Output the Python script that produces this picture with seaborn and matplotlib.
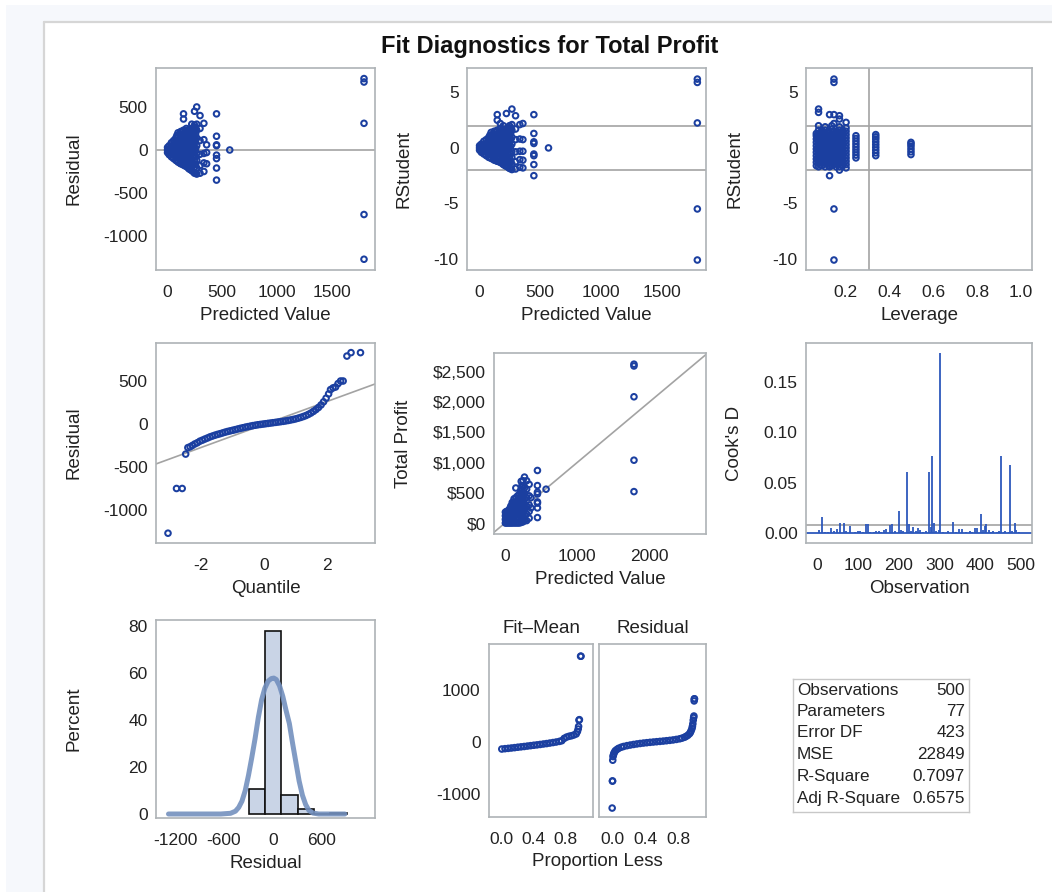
import matplotlib
matplotlib.use("Agg")
import matplotlib.pyplot as plt
import seaborn as sns
from matplotlib.patches import Rectangle
from matplotlib.lines import Line2D
from matplotlib.ticker import FuncFormatter

# ---------------- data ----------------
# Panel 1: Residual vs Predicted Value (columns of predicted values)
p1_pred_levels = [5, 20, 40, 60, 80, 90, 100, 115, 125, 140, 150, 165, 175, 190, 200, 215, 225,
                  240, 250, 260, 270, 300, 335, 360, 450, 570, 1790]
p1_resid = [
    [-30, 0, 30],
    [-55, -20, 15, 50],
    [-80, -40, 0, 40, 85],
    [-100, -60, -20, 20, 60, 110],
    [-120, -75, -30, 15, 60, 105, 140],
    [-125, -65, -5, 55, 115, 170],
    [-140, -90, -40, 10, 60, 110, 160, 200],
    [-150, -85, -20, 45, 110, 180],
    [-160, -110, -55, 0, 55, 110, 160, 215],
    [-165, -90, -25, 40, 100, 160, 210],
    [-175, -120, -60, 0, 60, 120, 180, 230, 360, 420],
    [-185, -100, -30, 35, 100, 165, 220],
    [-190, -130, -65, 0, 65, 130, 195, 250],
    [-205, -115, -45, 30, 100, 165, 225],
    [-220, -150, -80, -10, 60, 130, 200, 240],
    [-230, -135, -60, 20, 90, 160, 220],
    [-240, -170, -100, -30, 40, 110, 180, 250, 300],
    [-255, -165, -90, -20, 50, 120, 190, 260],
    [-270, -200, -130, -60, 10, 80, 150, 220, 290, 450],
    [-265, -170, -80, 20, 110, 190, 260],
    [-280, -210, -120, -40, 50, 140, 230, 300, 500],
    [-270, -180, -50, 110, 250, 400],
    [-250, -150, -40, 120, 310],
    [-160, -30, 60],
    [420, 160, 60, 50, -60, -100, -210, -350],
    [0],
    [830, 790, 310, -750, -1270],
]

# Panel 2: RStudent vs Predicted Value
p2_pred_levels = [5, 20, 40, 60, 80, 90, 100, 115, 125, 140, 150, 165, 175, 190, 200, 215, 225,
                  240, 250, 260, 270, 300, 335, 360, 450, 570, 1790]
p2_rstudent = [
    [-0.2, 0.0, 0.2],
    [-0.4, -0.15, 0.1, 0.35],
    [-0.55, -0.3, 0.0, 0.3, 0.6],
    [-0.7, -0.4, -0.15, 0.15, 0.4, 0.75],
    [-0.85, -0.5, -0.2, 0.1, 0.4, 0.7, 0.95],
    [-0.85, -0.45, -0.05, 0.4, 0.8, 1.15],
    [-0.95, -0.6, -0.3, 0.05, 0.4, 0.75, 1.1, 1.4],
    [-1.0, -0.6, -0.15, 0.3, 0.75, 1.25],
    [-1.1, -0.75, -0.4, 0.0, 0.4, 0.75, 1.1, 1.5],
    [-1.15, -0.6, -0.15, 0.3, 0.7, 1.1, 1.45],
    [-1.2, -0.8, -0.4, 0.0, 0.4, 0.8, 1.25, 1.6, 2.5, 3.0],
    [-1.25, -0.7, -0.2, 0.25, 0.7, 1.15, 1.5],
    [-1.3, -0.9, -0.45, 0.0, 0.45, 0.9, 1.35, 1.75, 2.2],
    [-1.4, -0.8, -0.3, 0.2, 0.7, 1.15, 1.55],
    [-1.5, -1.05, -0.55, -0.05, 0.4, 0.9, 1.4, 1.7, 2.0],
    [-1.6, -0.95, -0.4, 0.15, 0.6, 1.1, 1.5],
    [-1.65, -1.2, -0.7, -0.2, 0.3, 0.75, 1.25, 1.7, 3.1],
    [-1.75, -1.15, -0.6, -0.15, 0.35, 0.85, 1.3, 1.8],
    [-1.85, -1.4, -0.9, -0.4, 0.05, 0.55, 1.05, 1.5, 2.0],
    [-1.85, -1.2, -0.55, 0.15, 0.75, 1.3, 1.8],
    [-1.95, -1.45, -0.85, -0.3, 0.35, 0.95, 1.6, 2.1, 3.5],
    [-1.9, -1.25, -0.35, 0.75, 1.7, 2.9],
    [-1.75, -1.05, -0.3, 0.8, 2.1],
    [-1.8, -1.1, -0.3, 0.75, 2.2],
    [3.0, 1.3, 0.55, 0.4, -0.55, -0.7, -1.5, -2.5],
    [0.0],
    [6.2, 5.9, 2.25, -5.5, -10.1],
]

# Panel 3: RStudent vs Leverage
p3_lev_levels = [0.07, 0.08, 0.095, 0.11, 0.125, 0.13, 0.14, 0.15, 0.16, 0.175, 0.19, 0.205,
                 0.25, 0.34, 0.50]
p3_rstudent = [
    [-1.6, -1.3, -1.0, -0.7, -0.4, -0.1, 0.2, 0.5, 0.8, 1.1, 1.3],
    [-1.7, -1.4, -1.1, -0.8, -0.5, -0.2, 0.1, 0.4, 0.7, 1.0, 1.3, 1.6, 2.0, 3.2, 3.5],
    [-1.6, -1.3, -1.0, -0.7, -0.4, -0.1, 0.2, 0.5, 0.8, 1.1, 1.4, 1.6],
    [-1.7, -1.4, -1.1, -0.8, -0.5, -0.2, 0.1, 0.4, 0.7, 1.0, 1.3, 1.6, 1.9],
    [-1.6, -1.3, -1.0, -0.7, -0.4, -0.1, 0.2, 0.5, 0.8, 1.1, 1.4],
    [-2.5, -1.7, -0.1, 3.0],
    [-1.6, -1.3, -1.0, -0.7, -0.4, -0.1, 0.2, 0.5, 0.8, 1.1, 1.4, 1.7, 2.0],
    [-10.1, -5.5, -1.5, -1.2, -0.9, -0.6, -0.3, 0.0, 0.3, 0.6, 0.9, 1.2, 1.5, 2.2, 3.0, 5.9, 6.2],
    [-1.7, -1.4, -1.1, -0.8, -0.5, -0.2, 0.1, 0.4, 0.7, 1.0, 1.3, 1.5],
    [-2.0, -1.7, -1.4, -1.1, -0.8, -0.5, -0.2, 0.1, 0.4, 0.7, 1.0, 1.3, 1.6, 1.9, 2.6, 2.9],
    [-1.6, -1.3, -1.0, -0.7, -0.4, -0.1, 0.2, 0.5, 0.8, 1.1, 1.4, 1.6],
    [-1.8, -1.5, -1.2, -0.9, -0.6, -0.3, 0.0, 0.3, 0.6, 0.9, 1.2, 1.5, 1.8, 2.3],
    [-0.9, -0.65, -0.4, -0.15, 0.1, 0.35, 0.6, 0.85, 1.1],
    [-0.7, -0.45, -0.2, 0.05, 0.3, 0.55, 0.8, 1.0, 1.2],
    [-0.6, -0.35, -0.1, 0.15, 0.35, 0.5],
]
p3_leverage_cut = 0.309
rstudent_cut = 2.0

# Panel 4: Residual vs normal Quantile
qq_quantile = [-3.05, -2.78, -2.60, -2.49, -2.42, -2.35, -2.28, -2.20, -2.12, -2.04, -1.96, -1.88,
               -1.80, -1.72, -1.64, -1.56, -1.48, -1.40, -1.32, -1.24, -1.16, -1.08, -1.00, -0.92,
               -0.84, -0.76, -0.68, -0.60, -0.52, -0.44, -0.36, -0.28, -0.20, -0.12, -0.04, 0.04,
               0.12, 0.20, 0.28, 0.36, 0.44, 0.52, 0.60, 0.68, 0.76, 0.84, 0.92, 1.00, 1.08, 1.16,
               1.24, 1.32, 1.40, 1.48, 1.56, 1.64, 1.72, 1.80, 1.88, 1.96, 2.04, 2.10, 2.18, 2.26,
               2.34, 2.42, 2.50, 2.62, 2.75, 3.05]
qq_resid = [-1270, -750, -750, -350, -275, -265, -250, -232, -218, -200, -188, -175,
            -163, -150, -140, -130, -121, -113, -104, -95, -87, -80, -73, -66,
            -58, -51, -44, -37, -31, -25, -19, -14, -9, -5, -1, 3,
            7, 11, 15, 19, 23, 27, 31, 36, 41, 47, 53, 60, 68, 77,
            87, 98, 112, 128, 147, 168, 192, 222, 258, 300, 350, 400, 420, 430,
            470, 500, 500, 790, 830, 830]
qq_line_intercept = -5
qq_line_slope = 134

# Panel 5: Total Profit vs Predicted Value
p5_pred_levels = [5, 20, 40, 60, 80, 100, 110, 125, 150, 175, 200, 225, 235, 250, 270, 300, 335,
                  360, 450, 570, 1790]
p5_profit = [
    [0, 60, 120, 180],
    [0, 50, 100, 150, 190],
    [0, 50, 100, 150, 200],
    [0, 50, 110, 170, 230],
    [0, 60, 120, 180, 240, 280],
    [0, 60, 120, 180, 240, 300, 340],
    [30, 90, 150, 210, 270, 320],
    [0, 60, 130, 200, 270, 340, 400],
    [0, 70, 140, 210, 280, 350, 420, 580],
    [0, 70, 140, 220, 300, 380, 450],
    [0, 80, 160, 240, 320, 400, 480],
    [10, 90, 170, 250, 330, 410, 490, 560, 690],
    [50, 130, 210, 290, 370, 450, 530, 620],
    [20, 100, 180, 260, 340, 420, 500, 600, 700],
    [40, 130, 220, 310, 400, 490, 580, 760],
    [40, 150, 280, 420, 560, 700],
    [80, 190, 300, 450, 640],
    [250, 420],
    [870, 620, 510, 480, 350, 330, 250, 90],
    [560],
    [2630, 2600, 2090, 1040, 520],
]

# Panel 6: Cook's D by observation
cook_obs = [6, 12, 20, 28, 35, 42, 50, 57, 65, 72, 82, 94, 100, 106, 112, 121, 124, 130, 139, 145,
            153, 158, 163, 170, 178, 185, 192, 201, 206, 212, 220, 225, 230, 236, 242, 247, 253, 260,
            268, 275, 279, 283, 286, 292, 298, 302, 310, 320, 333, 340, 348, 355, 365, 375, 380, 388,
            393, 401, 406, 412, 414, 421, 426, 432, 440, 445, 450, 458, 462, 470, 473, 478, 485, 488, 495]
cook_d = [0.003, 0.016, 0.001, 0.001, 0.005, 0.002, 0.004, 0.010, 0.010, 0.002, 0.007, 0.001, 0.002,
          0.002, 0.001, 0.009, 0.009, 0.001, 0.001, 0.002, 0.002, 0.001, 0.003, 0.004, 0.008, 0.009,
          0.002, 0.022, 0.003, 0.002, 0.061, 0.009, 0.002, 0.006, 0.002, 0.005, 0.003, 0.001, 0.002,
          0.061, 0.006, 0.077, 0.010, 0.002, 0.003, 0.179, 0.001, 0.002, 0.011, 0.001, 0.004, 0.004,
          0.001, 0.002, 0.001, 0.005, 0.005, 0.019, 0.003, 0.007, 0.009, 0.003, 0.001, 0.002, 0.001,
          0.002, 0.077, 0.001, 0.002, 0.001, 0.068, 0.002, 0.010, 0.003, 0.001]
cook_cut = 0.008

# Panel 7: histogram of residuals (percent) and density curve
hist_edges = [-300, -100, 100, 300, 500, 700, 900]
hist_centers = [-200, 0, 200, 400, 600, 800]
hist_pct = [10.6, 77.8, 8.2, 2.2, 0.0, 0.6]
curve_x = [-1280, -640, -520, -460, -420, -380, -340, -300, -260, -220, -180, -140, -100, -60, -20,
           10, 40, 80, 120, 160, 200, 240, 280, 320, 360, 400, 440, 490, 560, 880]
curve_y = [0, 0, 0.3, 1.2, 2.8, 5.5, 10, 16.5, 24, 32, 41, 48.5, 53.5, 56.5, 57.6,
           57.8, 57.2, 54.5, 50, 44, 38.5, 30, 22, 14, 8, 4, 1.5, 0.4, 0, 0]

# Panel 8: residual-fit spread plot
fm_prop = [0.00, 0.04, 0.08, 0.12, 0.16, 0.20, 0.24, 0.28, 0.32, 0.36, 0.40, 0.44, 0.48, 0.52, 0.56,
           0.60, 0.64, 0.68, 0.72, 0.75, 0.78, 0.81, 0.84, 0.87, 0.90, 0.93, 0.945, 0.955, 0.96,
           0.965, 0.97, 0.985, 0.99]
fm_value = [-135, -128, -122, -115, -108, -100, -93, -86, -78, -70, -62, -55, -47, -38, -30,
            -20, -10, 0, 12, 25, 70, 95, 110, 120, 135, 155, 200, 250, 300, 420, 430, 1650, 1650]
rs_prop = [0.0, 0.003, 0.005, 0.007, 0.01, 0.015, 0.02, 0.03, 0.04, 0.06, 0.08, 0.11, 0.14, 0.18,
           0.22, 0.26, 0.30, 0.34, 0.38, 0.42, 0.46, 0.50, 0.54, 0.58, 0.62, 0.66, 0.70, 0.74, 0.78,
           0.82, 0.85, 0.88, 0.90, 0.92, 0.94, 0.95, 0.96, 0.97, 0.975, 0.98, 0.985, 0.99, 0.993,
           0.996, 0.998, 1.0]
rs_value = [-1270, -750, -750, -350, -280, -250, -220, -190, -165, -140, -120, -100, -85, -70,
            -58, -47, -37, -28, -20, -13, -6, 0, 6, 12, 18, 25, 32, 40, 50,
            62, 75, 92, 110, 130, 160, 185, 220, 260, 300, 350, 420, 470, 500,
            790, 830, 830]

# Fit statistics table
stat_names = ["Observations", "Parameters", "Error DF", "MSE", "R-Square", "Adj R-Square"]
stat_values = ["500", "77", "423", "22849", "0.7097", "0.6575"]

# ---------------- styling ----------------
sns.set_theme(style="white")
plt.rcParams['font.family'] = ['Liberation Sans', 'DejaVu Sans']
plt.rcParams['axes.unicode_minus'] = False

W, H = 1052, 892
BLUE = '#1B3FA0'
NEEDLE = '#2D58BC'
REF = '#A3A3A3'
SPINE = '#AEB3B6'
TXT = '#222222'
TICK_FS = 12.5
LAB_FS = 13.5
MS = 16
MLW = 1.45

fig = plt.figure(figsize=(W / 100, H / 100), dpi=100)
fig.patch.set_facecolor('white')
fig.add_artist(Rectangle((6 / W, 0), 1, 1 - 5 / H, transform=fig.transFigure,
                         fc='#F6F8FC', ec='none', zorder=-10))
fig.add_artist(Rectangle((44 / W, 0), 1, 1 - 22 / H, transform=fig.transFigure,
                         fc='white', ec='none', zorder=-9))
fig.add_artist(Line2D([44 / W, 44 / W], [0, 1 - 22 / H], transform=fig.transFigure,
                      color='#D6D6D6', lw=1.6, zorder=-8))
fig.add_artist(Line2D([44 / W, 1], [1 - 22 / H, 1 - 22 / H], transform=fig.transFigure,
                      color='#D6D6D6', lw=1.6, zorder=-8))


def px_axes(l, t, r, b):
    ax = fig.add_axes([l / W, 1 - b / H, (r - l) / W, (b - t) / H])
    ax._px = (l, r)
    return ax


def style(ax, xlabel=None, ylabel=None, ylabel_right_px=None):
    for s in ax.spines.values():
        s.set_color(SPINE)
        s.set_linewidth(1.2)
        s.set_visible(True)
    ax.tick_params(axis='both', which='major', direction='out', length=3,
                   color=SPINE, labelsize=TICK_FS, labelcolor=TXT)
    ax.tick_params(axis='x', pad=8)
    ax.tick_params(axis='y', pad=3)
    ax.set_xlabel(xlabel if xlabel else '', fontsize=LAB_FS, color=TXT, labelpad=5)
    ax.set_ylabel(ylabel if ylabel else '', fontsize=LAB_FS, color=TXT, labelpad=9)
    if ylabel_right_px is not None:
        l, r = ax._px
        ax.yaxis.set_label_coords((ylabel_right_px - l) / (r - l), 0.5)
    ax.grid(False)


def flat(levels, groups):
    xs, ys = [], []
    for lv, g in zip(levels, groups):
        for v in g:
            xs.append(lv)
            ys.append(v)
    return xs, ys


def scatter(ax, x, y):
    sns.scatterplot(x=x, y=y, ax=ax, marker='o', s=MS, fc='none', ec=BLUE,
                    linewidth=MLW, legend=False, zorder=3)


# Title
fig.text(550 / W, 1 - 47 / H, "Fit Diagnostics for Total Profit", ha='center', va='center',
         fontsize=17, fontweight='bold', color='#111111')

# Panel 1
ax1 = px_axes(156, 68, 375, 270)
x, y = flat(p1_pred_levels, p1_resid)
ax1.axhline(0, color=REF, lw=1.2, zorder=1)
scatter(ax1, x, y)
ax1.set_xlim(-100, 1890)
ax1.set_ylim(-1395, 953)
ax1.set_xticks([0, 500, 1000, 1500])
ax1.set_yticks([-1000, -500, 0, 500])
style(ax1, "Predicted Value", "Residual", 83)

# Panel 2
ax2 = px_axes(467, 68, 706, 270)
x, y = flat(p2_pred_levels, p2_rstudent)
ax2.axhline(rstudent_cut, color=REF, lw=1.2, zorder=1)
ax2.axhline(-rstudent_cut, color=REF, lw=1.2, zorder=1)
scatter(ax2, x, y)
ax2.set_xlim(-98, 1861)
ax2.set_ylim(-11.0, 7.2)
ax2.set_xticks([0, 500, 1000, 1500])
ax2.set_yticks([-10, -5, 0, 5])
style(ax2, "Predicted Value", "RStudent", 412)

# Panel 3
ax3 = px_axes(806, 68, 1032, 270)
x, y = flat(p3_lev_levels, p3_rstudent)
ax3.axhline(rstudent_cut, color=REF, lw=1.2, zorder=1)
ax3.axhline(-rstudent_cut, color=REF, lw=1.2, zorder=1)
ax3.axvline(p3_leverage_cut, color=REF, lw=1.2, zorder=1)
scatter(ax3, x, y)
ax3.set_xlim(0.023, 1.05)
ax3.set_ylim(-11.0, 7.2)
ax3.set_xticks([0.2, 0.4, 0.6, 0.8, 1.0])
ax3.xaxis.set_major_formatter(FuncFormatter(lambda v, p: f"{v:.1f}"))
ax3.set_yticks([-10, -5, 0, 5])
style(ax3, "Leverage", "RStudent", 743)

# Panel 4
ax4 = px_axes(156, 343, 375, 543)
ax4.axline((0, qq_line_intercept), slope=qq_line_slope, color=REF, lw=1.2, zorder=1)
scatter(ax4, qq_quantile, qq_resid)
ax4.set_xlim(-3.43, 3.51)
ax4.set_ylim(-1384, 942)
ax4.set_xticks([-2, 0, 2])
ax4.set_yticks([-1000, -500, 0, 500])
style(ax4, "Quantile", "Residual", 83)

# Panel 5
ax5 = px_axes(494, 353, 706, 534)
x, y = flat(p5_pred_levels, p5_profit)
ax5.axline((0, 0), slope=1, color=REF, lw=1.2, zorder=1)
scatter(ax5, x, y)
ax5.set_xlim(-153, 2790)
ax5.set_ylim(-182, 2815)
ax5.set_xticks([0, 1000, 2000])
ax5.set_yticks([0, 500, 1000, 1500, 2000, 2500])
ax5.yaxis.set_major_formatter(FuncFormatter(lambda v, p: f"${v:,.0f}"))
style(ax5, "Predicted Value", "Total Profit", 412)

# Panel 6
ax6 = px_axes(806, 343, 1032, 543)
ax6.axhline(cook_cut, color=REF, lw=1.2, zorder=1)
ax6.axhline(0, color=NEEDLE, lw=1.3, zorder=2)
ax6.vlines(cook_obs, 0, cook_d, color=NEEDLE, lw=1.3, zorder=3)
ax6.set_xlim(-27, 527)
ax6.set_ylim(-0.0099, 0.189)
ax6.set_xticks([0, 100, 200, 300, 400, 500])
ax6.set_yticks([0.0, 0.05, 0.10, 0.15])
ax6.yaxis.set_major_formatter(FuncFormatter(lambda v, p: f"{v:.2f}"))
style(ax6, "Observation", "Cook's D", 743)

# Panel 7
ax7 = px_axes(156, 620, 375, 818)
sns.histplot(x=hist_centers, weights=hist_pct, bins=hist_edges, ax=ax7, stat='count',
             color='#C9D4E6', edgecolor='#111111', linewidth=1.2, alpha=1.0, zorder=2)
sns.lineplot(x=curve_x, y=curve_y, ax=ax7, color='#7390BE', lw=3.6, alpha=0.9, zorder=3)
ax7.set_xlim(-1433, 1249)
ax7.set_ylim(-1.7, 82.5)
ax7.set_xticks([-1200, -600, 0, 600])
ax7.set_yticks([0, 20, 40, 60, 80])
style(ax7, "Residual", "Percent", 83)

# Panel 8 (spread plot)
ax8a = px_axes(489, 644, 593, 817)
ax8b = px_axes(599, 644, 706, 817)
scatter(ax8a, fm_prop, fm_value)
scatter(ax8b, rs_prop, rs_value)
for a in (ax8a, ax8b):
    a.set_xlim(-0.16, 1.14)
    a.set_ylim(-1442, 1885)
    a.set_xticks([0.0, 0.4, 0.8])
    a.xaxis.set_major_formatter(FuncFormatter(lambda v, p: f"{v:.1f}"))
    a.set_yticks([-1000, 0, 1000])
    style(a)
ax8b.tick_params(axis='y', left=False, labelleft=False)
ax8a.set_title("Fit\u2013Mean", fontsize=LAB_FS, color=TXT, pad=8)
ax8b.set_title("Residual", fontsize=LAB_FS, color=TXT, pad=8)
fig.text(597 / W, 1 - 862 / H, "Proportion Less", ha='center', va='center',
         fontsize=LAB_FS, color=TXT)

# Fit statistics table
axt = px_axes(793, 679, 969, 812)
axt.set_xlim(793, 969)
axt.set_ylim(812, 679)
axt.set_xticks([])
axt.set_yticks([])
for s in axt.spines.values():
    s.set_color('#C8C8C8')
    s.set_linewidth(1.0)
row_y = [690, 711, 732, 754, 776, 798]
for name, val, ry in zip(stat_names, stat_values, row_y):
    axt.text(797, ry, name, ha='left', va='center', fontsize=12.3, color=TXT)
    axt.text(965, ry, val, ha='right', va='center', fontsize=12.3, color=TXT)

fig.savefig("out.png", dpi=100)
